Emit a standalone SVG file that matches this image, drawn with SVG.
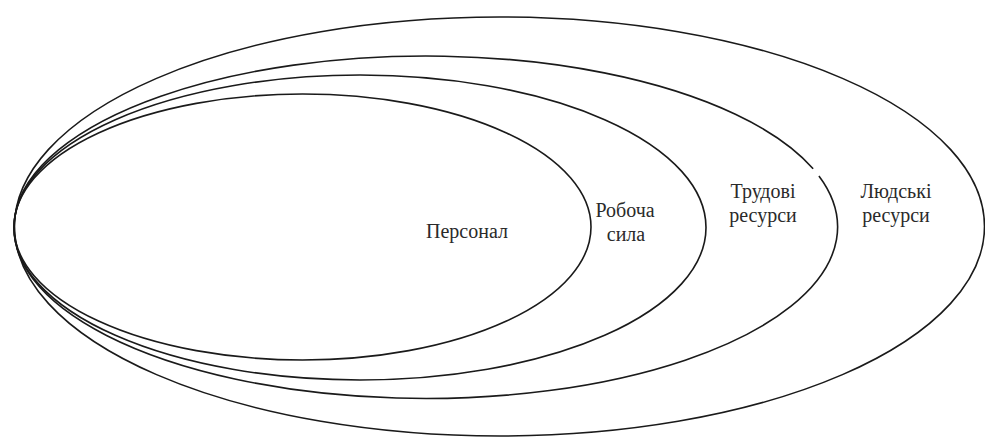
<svg xmlns="http://www.w3.org/2000/svg" width="985" height="437" viewBox="0 0 985 437">
<style>
.ring{fill:none;stroke:#1a1a1a;stroke-width:1.6}
.lbl{font-family:"Liberation Serif","Times New Roman","DejaVu Serif",serif;font-size:20px;fill:#2a2a2a;text-anchor:middle}
</style>
<rect width="985" height="437" fill="#ffffff"/>
<g id="connectors"></g>
<g id="lyudski">
<ellipse class="ring" cx="499.5" cy="226.5" rx="485" ry="209.5"/>
<text class="lbl" x="896" y="198">Людські</text>
<text class="lbl" x="896" y="222">ресурси</text>
</g>
<g id="trudovi">
<path class="ring" d="M 818.93 175.93 A 412 171.5 0 0 1 33.07 279.07 A 412 171.5 0 0 1 813.15 168.84"/>
<text class="lbl" x="763" y="198">Трудові</text>
<text class="lbl" x="763" y="222">ресурси</text>
</g>
<g id="robocha">
<ellipse class="ring" cx="360" cy="227.5" rx="346" ry="152.5"/>
<text class="lbl" x="625" y="217">Робоча</text>
<text class="lbl" x="626" y="241">сила</text>
</g>
<g id="personal">
<ellipse class="ring" cx="302.5" cy="227" rx="288.5" ry="133"/>
<text class="lbl" x="467" y="238">Персонал</text>
</g>
</svg>
